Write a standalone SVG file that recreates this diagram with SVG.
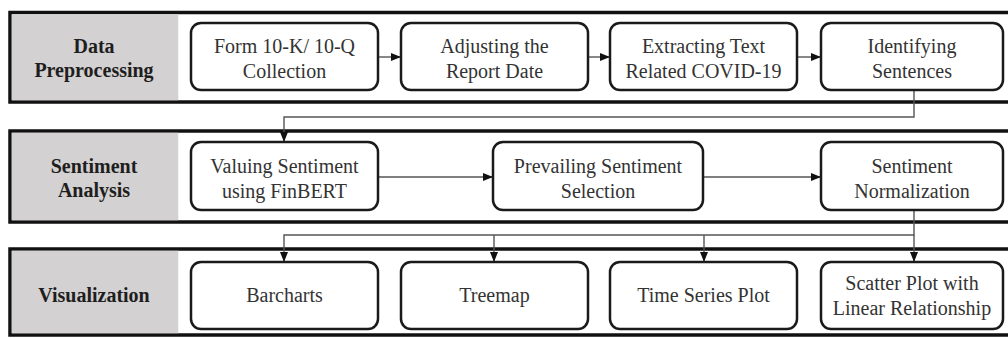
<svg xmlns="http://www.w3.org/2000/svg" width="1008" height="338" viewBox="0 0 1008 338">
<style>
.band{fill:#fff;stroke:#111;stroke-width:3.5}
.lab{fill:#d3d1d1}
.node{fill:#fff;stroke:#1a1a1a;stroke-width:2.5}
.bt{font-family:"Liberation Serif","Times New Roman",serif;font-size:20px;font-weight:bold;fill:#1e1e1e;text-anchor:middle}
.nt{font-family:"Liberation Serif","Times New Roman",serif;font-size:20px;fill:#333;text-anchor:middle}
.c{fill:none;stroke:#555;stroke-width:1.4}
</style>
<defs>
<marker id="ah" markerWidth="10" markerHeight="8" refX="9" refY="4" orient="auto" markerUnits="userSpaceOnUse">
<path d="M0,0 L10,4 L0,8 Z" fill="#111"/>
</marker>
</defs>
<rect width="1008" height="338" fill="#fff"/>
<g id="band-data-preprocessing">
<rect class="band" x="10" y="12.5" width="1010" height="89.5"/>
<rect class="lab" x="11.75" y="14.25" width="166.5" height="86"/>
<text class="bt" x="94" y="53">Data</text>
<text class="bt" x="94" y="77">Preprocessing</text>
</g>
<g id="band-sentiment-analysis">
<rect class="band" x="10" y="131" width="1010" height="91"/>
<rect class="lab" x="11.75" y="132.75" width="166.5" height="87.5"/>
<text class="bt" x="94" y="173">Sentiment</text>
<text class="bt" x="94" y="197">Analysis</text>
</g>
<g id="band-visualization">
<rect class="band" x="10" y="249" width="1010" height="86"/>
<rect class="lab" x="11.75" y="250.75" width="166.5" height="82.5"/>
<text class="bt" x="94" y="302">Visualization</text>
</g>
<g id="connectors">
<line class="c" x1="378" y1="57" x2="400" y2="57" marker-end="url(#ah)"/>
<line class="c" x1="588" y1="57" x2="609" y2="57" marker-end="url(#ah)"/>
<line class="c" x1="797" y1="57" x2="820" y2="57" marker-end="url(#ah)"/>
<polyline class="c" points="914,90 914,117 284,117 284,141" marker-end="url(#ah)"/>
<line class="c" x1="378" y1="177" x2="492" y2="177" marker-end="url(#ah)"/>
<line class="c" x1="703" y1="177" x2="820" y2="177" marker-end="url(#ah)"/>
<polyline class="c" points="914,210 914,235 284,235 284,261" marker-end="url(#ah)"/>
<line class="c" x1="494" y1="235" x2="494" y2="261" marker-end="url(#ah)"/>
<line class="c" x1="704" y1="235" x2="704" y2="261" marker-end="url(#ah)"/>
<line class="c" x1="914" y1="235" x2="914" y2="261" marker-end="url(#ah)"/>
</g>
<g id="n-form">
<rect class="node" x="191" y="23" width="187" height="67" rx="10"/>
<text class="nt" x="284.5" y="53">Form 10-K/ 10-Q</text>
<text class="nt" x="284.5" y="78">Collection</text>
</g>
<g id="n-adjust">
<rect class="node" x="401" y="23" width="187" height="67" rx="10"/>
<text class="nt" x="494.5" y="53">Adjusting the</text>
<text class="nt" x="494.5" y="78">Report Date</text>
</g>
<g id="n-extract">
<rect class="node" x="610" y="23" width="187" height="67" rx="10"/>
<text class="nt" x="703.5" y="53">Extracting Text</text>
<text class="nt" x="703.5" y="78">Related COVID-19</text>
</g>
<g id="n-identify">
<rect class="node" x="821" y="23" width="182" height="67" rx="10"/>
<text class="nt" x="912" y="53">Identifying</text>
<text class="nt" x="912" y="78">Sentences</text>
</g>
<g id="n-valuing">
<rect class="node" x="191" y="142" width="187" height="68" rx="10"/>
<text class="nt" x="284.5" y="173">Valuing Sentiment</text>
<text class="nt" x="284.5" y="198">using FinBERT</text>
</g>
<g id="n-prevailing">
<rect class="node" x="493" y="142" width="210" height="68" rx="10"/>
<text class="nt" x="598" y="173">Prevailing Sentiment</text>
<text class="nt" x="598" y="198">Selection</text>
</g>
<g id="n-normalization">
<rect class="node" x="821" y="142" width="182" height="68" rx="10"/>
<text class="nt" x="912" y="173">Sentiment</text>
<text class="nt" x="912" y="198">Normalization</text>
</g>
<g id="n-barcharts">
<rect class="node" x="191" y="262" width="187" height="67" rx="10"/>
<text class="nt" x="284.5" y="302">Barcharts</text>
</g>
<g id="n-treemap">
<rect class="node" x="401" y="262" width="187" height="67" rx="10"/>
<text class="nt" x="494.5" y="302">Treemap</text>
</g>
<g id="n-timeseries">
<rect class="node" x="610" y="262" width="187" height="67" rx="10"/>
<text class="nt" x="703.5" y="302">Time Series Plot</text>
</g>
<g id="n-scatter">
<rect class="node" x="821" y="262" width="182" height="67" rx="10"/>
<text class="nt" x="912" y="290">Scatter Plot with</text>
<text class="nt" x="912" y="315">Linear Relationship</text>
</g>
</svg>
